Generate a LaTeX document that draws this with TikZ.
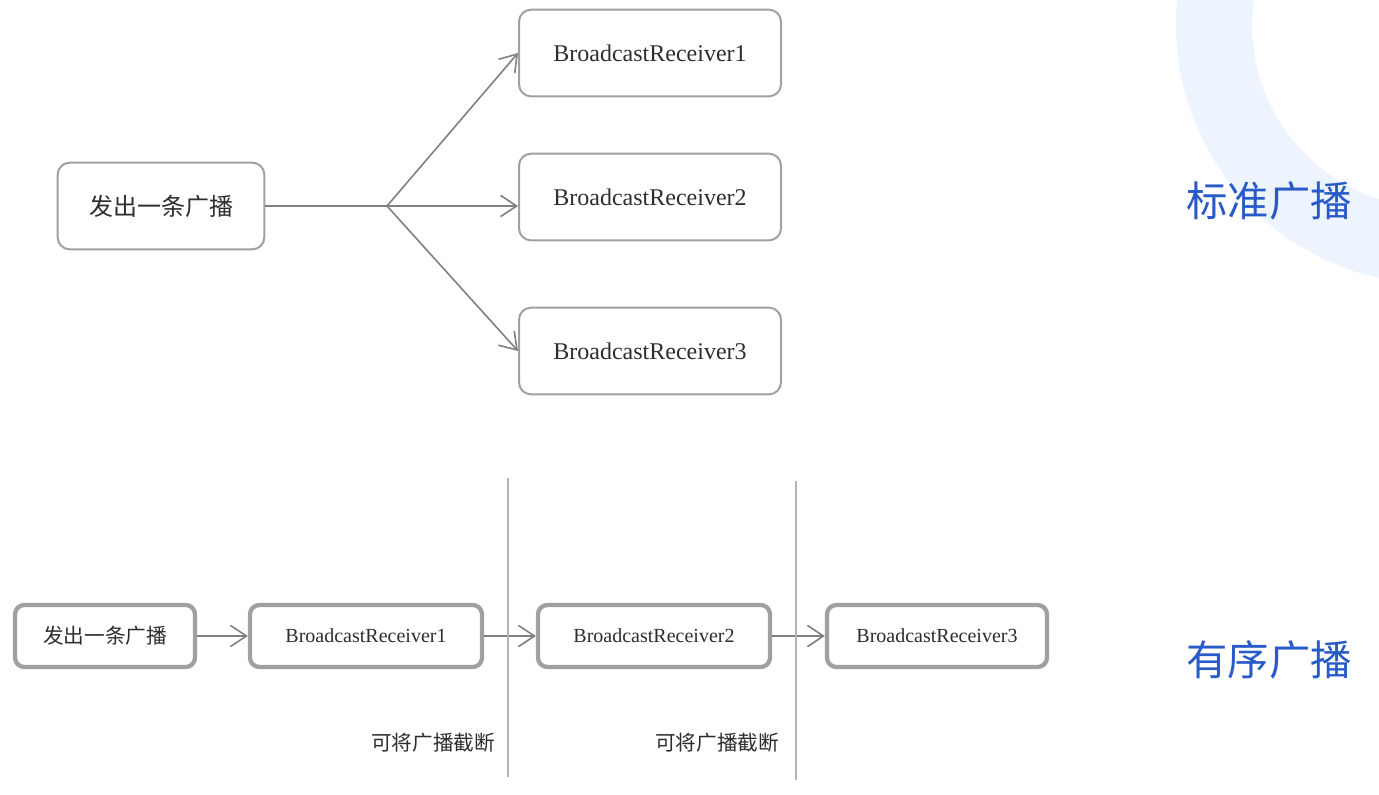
\documentclass[tikz,border=0pt]{standalone}
\usepackage{fontspec}
\setmainfont{Liberation Serif}
\newfontfamily\cjk{Noto Sans CJK SC}
\usetikzlibrary{arrows.meta}

\definecolor{boxgray}{RGB}{160,160,160}
\definecolor{linegray}{RGB}{128,128,128}
\definecolor{sepgray}{RGB}{180,180,180}
\definecolor{textgray}{RGB}{45,45,45}
\definecolor{titleblue}{RGB}{40,90,200}
\definecolor{ringblue}{RGB}{238,244,253}

\tikzset{
  stdbox/.style={draw=boxgray, line width=1.5pt, rounded corners=9pt, text=textgray,
    minimum height=65pt, font=\fontsize{18}{18}\selectfont},
  ordbox/.style={draw=boxgray, line width=3.2pt, rounded corners=7pt, text=textgray,
    minimum height=46.5pt, font=\fontsize{15}{15}\selectfont},
  arr/.style={draw=linegray, line width=1.2pt,
    -{Straight Barb[length=12pt,width=16pt]}},
  title/.style={text=titleblue, font=\cjk\fontsize{31}{31}\selectfont},
  cutlabel/.style={text=textgray, font=\cjk\fontsize{15.5}{15.5}\selectfont},
}

\begin{document}
\begin{tikzpicture}[x=0.75pt,y=-0.75pt]
\useasboundingbox (0,0) rectangle (1379,795);
% pale ring in the corner
\begin{scope}
\clip (0,0) rectangle (1379,795);
\fill[ringblue,even odd rule] (1435,25) circle (259) (1435,25) circle (183);
\end{scope}

% standard broadcast
\node[stdbox, minimum width=155pt] (src) at (161,206) {\cjk 发出一条广播};
\node[stdbox, minimum width=196.5pt] (r1) at (650,53) {BroadcastReceiver1};
\node[stdbox, minimum width=196.5pt] (r2) at (650,197) {BroadcastReceiver2};
\node[stdbox, minimum width=196.5pt] (r3) at (650,351) {BroadcastReceiver3};
\coordinate (fork) at (387,206);
\draw[linegray, line width=1.2pt] (src.east |- fork) -- (fork);
\draw[arr] (fork) -- (r1.west);
\draw[arr] (fork) -- (fork -| r2.west);
\draw[arr] (fork) -- (r3.west);
\node[title] (std) at (1269,201) {标准广播};

% ordered broadcast
\node[ordbox, minimum width=135pt, font=\cjk\fontsize{15.5}{15.5}\selectfont] (osrc) at (105,636) {发出一条广播};
\node[ordbox, minimum width=174pt] (o1) at (366,636) {BroadcastReceiver1};
\node[ordbox, minimum width=174pt] (o2) at (654,636) {BroadcastReceiver2};
\node[ordbox, minimum width=165pt] (o3) at (937,636) {BroadcastReceiver3};
\draw[arr] (osrc) -- (o1);
\draw[arr] (o1) -- (o2);
\draw[arr] (o2) -- (o3);
\coordinate (cut1top) at (508,478);
\coordinate (cut1bot) at (508,777);
\coordinate (cut2top) at (796,481);
\coordinate (cut2bot) at (796,780);
\draw[sepgray, line width=1.1pt] (cut1top) -- (cut1bot);
\draw[sepgray, line width=1.1pt] (cut2top) -- (cut2bot);
\node[cutlabel] (cut1) at (433,743) {可将广播截断};
\node[cutlabel] (cut2) at (717,743) {可将广播截断};
\node[title] (ord) at (1269,660) {有序广播};
\end{tikzpicture}
\end{document}
